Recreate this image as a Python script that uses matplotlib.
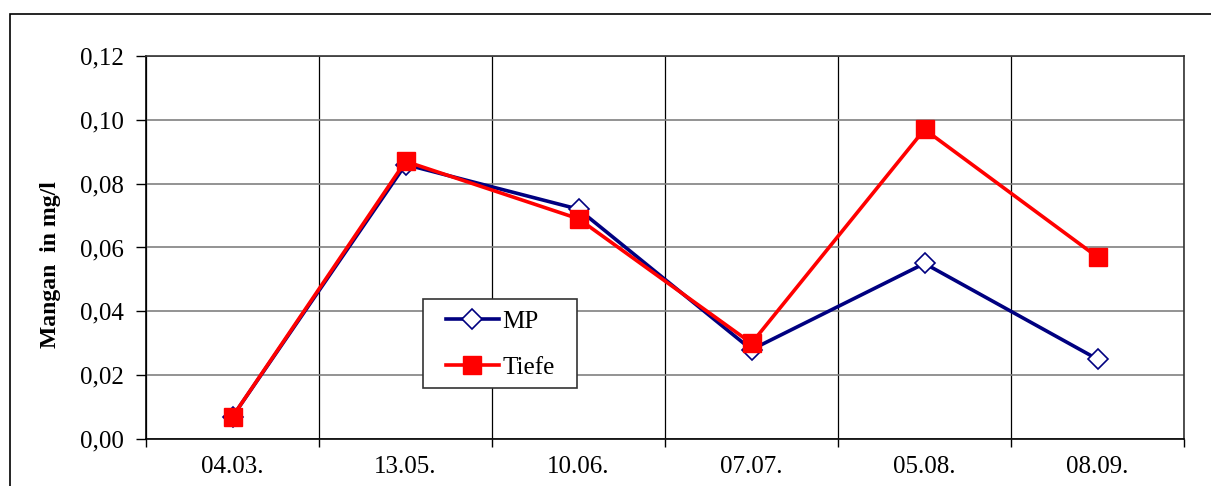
import matplotlib
matplotlib.use("Agg")
from matplotlib import pyplot as plt
from matplotlib.patches import Rectangle
from matplotlib.ticker import FuncFormatter
import numpy as np

# data
dates = ["04.03.", "13.05.", "10.06.", "07.07.", "05.08.", "08.09."]
mp = [0.007, 0.086, 0.072, 0.028, 0.055, 0.025]
tiefe = [0.007, 0.087, 0.069, 0.030, 0.097, 0.057]

plt.rcParams['font.family'] = ['Liberation Serif', 'DejaVu Serif']

fig = plt.figure(figsize=(12.11, 4.86), dpi=100)
W, H = 1211, 486

# outer frame (right and bottom edges run off the picture)
fig.patches.append(Rectangle((9.5 / W, -0.05), 1.1, 1.05 - 14.5 / H,
                             transform=fig.transFigure, fill=False,
                             edgecolor='black', linewidth=1.2))

ax = fig.add_axes([146 / W, 1 - 439 / H, (1184 - 146) / W, (439 - 56) / H])

x = np.arange(len(dates))
ax.plot(x, mp, color='#000080', linewidth=2.6, marker='D', markersize=10,
        markerfacecolor='white', markeredgecolor='#000080', markeredgewidth=1.2,
        label='MP', zorder=3)
ax.plot(x, tiefe, color='#ff0000', linewidth=2.6, marker='s', markersize=13.5,
        markerfacecolor='#ff0000', markeredgecolor='#ff0000',
        label='Tiefe', zorder=4)

ax.set_xlim(-0.5, len(dates) - 0.5)
ax.set_ylim(0, 0.12)
ax.set_yticks(np.arange(0, 0.121, 0.02))
ax.yaxis.set_major_formatter(FuncFormatter(lambda v, p: f"{v:.2f}".replace('.', ',')))
ax.set_xticks(x)
ax.set_xticklabels(dates)
ax.set_xticks(np.arange(-0.5, len(dates), 1.0), minor=True)

ax.tick_params(axis='x', which='major', length=0, labelsize=18, pad=12)
ax.tick_params(axis='x', which='minor', length=6, width=1, direction='out')
ax.tick_params(axis='y', which='major', length=7, width=1, direction='out',
               labelsize=18, pad=9)

ax.grid(axis='y', which='major', color='#808080', linewidth=1.2)
ax.grid(axis='x', which='minor', color='black', linewidth=0.9)
ax.set_axisbelow(True)

for s in ax.spines.values():
    s.set_color('#333333')
    s.set_linewidth(1.2)
ax.spines['left'].set_color('black')
ax.spines['bottom'].set_color('black')

ax.set_ylabel("Mangan  in mg/l", fontsize=17, fontweight='bold')
ax.yaxis.set_label_coords((61 - 146) / 1038, (439 - 265) / 383)

# legend box drawn by hand, entries placed inside it
ax.add_patch(Rectangle((423 / W, 1 - 388 / H), (577 - 423) / W, (388 - 299) / H,
                       transform=fig.transFigure, facecolor='white',
                       edgecolor='#333333', linewidth=1.2, zorder=5, clip_on=False))
leg = ax.legend(loc='upper left', bbox_to_anchor=(446 / W, 1 - 310 / H),
                bbox_transform=fig.transFigure, fontsize=18, frameon=False,
                handlelength=2.1, borderpad=0, labelspacing=0.95,
                borderaxespad=0, handletextpad=0.15)
leg.set_zorder(6)

plt.savefig("out.png", dpi=100)
